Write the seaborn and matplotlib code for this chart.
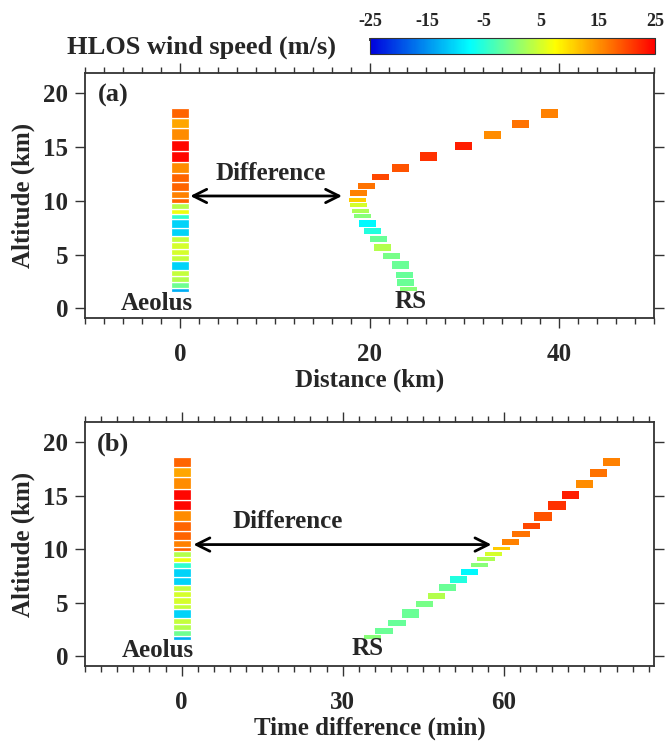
import numpy as np
import matplotlib
matplotlib.use("Agg")
import matplotlib.pyplot as plt
import seaborn as sns
from matplotlib.colors import LinearSegmentedColormap, Normalize
from matplotlib.cm import ScalarMappable
from matplotlib.ticker import MultipleLocator

# ---------------- data ----------------
# Aeolus range-bin boundaries (km, bottom -> top) and HLOS wind (m/s)
aeolus_bounds = [1.5, 1.9, 2.45, 3.05, 3.6, 4.4, 4.92, 5.55, 6.15, 6.7, 7.45, 8.3,
                 8.78, 9.25, 9.82, 10.25, 10.9, 11.75, 12.62, 13.65, 14.65, 15.68,
                 16.75, 17.72, 18.6]
aeolus_wind = [-13, -1, 3.1, 4, -10.5, 4, 4.9, 4.9, 4, -10.5, -10.5, -4.75,
               6.6, 3.1, 18, 16.2, 18, 18, 15.4, 24.6, 24.6, 15.4, 13.6, 18]

# Radiosonde (RS) levels, top -> bottom
rs_alt = [18.15, 17.15, 16.12, 15.1, 14.1, 13.07, 12.2, 11.42, 10.7, 10.08, 9.58,
          9.08, 8.55, 7.88, 7.2, 6.43, 5.67, 4.91, 4.0, 3.14, 2.4, 1.78]
rs_thick = [0.8, 0.8, 0.8, 0.8, 0.8, 0.8, 0.56, 0.56, 0.56, 0.35, 0.38, 0.38, 0.38,
            0.6, 0.6, 0.6, 0.6, 0.56, 0.78, 0.56, 0.56, 0.4]
rs_wind = [16.2, 17.1, 15.4, 22.9, 21.5, 19.2, 20.1, 17.1, 16.2, 11, 4.9, 2.6, 0.5,
           -7.9, -5.6, -1.25, 3.1, -0.4, -1.25, -1.5, -1.25, 0.5]
rs_distance = [39.0, 35.9, 33.0, 29.9, 26.2, 23.3, 21.2, 19.7, 18.8, 18.7, 18.8,
               19.0, 19.3, 19.8, 20.3, 20.9, 21.4, 22.3, 23.3, 23.7, 23.8, 24.1]
rs_time = [80.1, 77.6, 75.0, 72.5, 69.9, 67.3, 65.2, 63.2, 61.3, 59.6, 58.1, 56.7,
           55.5, 53.6, 51.6, 49.5, 47.4, 45.3, 42.7, 40.1, 37.7, 35.6]

cbar_ticks = [-25, -15, -5, 5, 15, 25]

# ---------------- style ----------------
sns.set_theme(style="ticks")
plt.rcParams["font.family"] = ["Liberation Serif", "DejaVu Serif"]
plt.rcParams["font.weight"] = "bold"
plt.rcParams["axes.labelweight"] = "bold"
plt.rcParams["axes.edgecolor"] = "#333333"
plt.rcParams["axes.linewidth"] = 1.3

cmap = LinearSegmentedColormap.from_list(
    "hlos", [(0.0, "#0000dd"), (0.35, "#00ffff"), (0.5, "#80ff80"),
             (0.65, "#ffff00"), (1.0, "#ff0000")])
norm = Normalize(vmin=-25, vmax=25)

fig = plt.figure(figsize=(6.68, 7.45), dpi=100)
ax_a = fig.add_axes([0.1272, 0.5732, 0.852, 0.3289])
ax_b = fig.add_axes([0.1272, 0.1060, 0.852, 0.3275])

b = np.array(aeolus_bounds)
rs_alt_arr = np.array(rs_alt)
rs_thick_arr = np.array(rs_thick)


def draw_panel(ax, rs_x, aeolus_w, rs_w, xlim, major, minor, xlabel, tag,
               arrow_x, diff_xy, aeolus_xy, rs_xy):
    ax.bar(np.zeros(len(aeolus_wind)), np.diff(b), bottom=b[:-1], width=aeolus_w,
           color=cmap(norm(np.array(aeolus_wind))), edgecolor="white",
           linewidth=0.9, align="center")
    ax.bar(rs_x, rs_thick_arr, bottom=rs_alt_arr - rs_thick_arr / 2, width=rs_w,
           color=cmap(norm(np.array(rs_wind))), edgecolor="none")
    ax.set_xlim(*xlim)
    ax.set_ylim(-0.9, 21.9)
    ax.xaxis.set_major_locator(MultipleLocator(major))
    ax.xaxis.set_minor_locator(MultipleLocator(minor))
    ax.yaxis.set_major_locator(MultipleLocator(5))
    ax.tick_params(axis="both", which="both", direction="out", top=True,
                   right=True, labeltop=False, labelright=False,
                   color="#333333", width=1.0)
    ax.tick_params(axis="both", which="major", length=7, labelsize=18)
    ax.tick_params(axis="x", which="minor", length=4)
    ax.tick_params(axis="x", which="major", pad=11)
    ax.tick_params(axis="y", which="major", pad=5)
    ax.set_xlabel(xlabel, fontsize=18, labelpad=2)
    ax.set_ylabel("Altitude (km)", fontsize=18, labelpad=6)
    ax.text(0.05, 0.91, tag, transform=ax.transAxes, fontsize=19,
            fontweight="bold", ha="center", va="center")
    ax.annotate("", xy=(arrow_x[1], 10.45), xytext=(arrow_x[0], 10.45),
                arrowprops=dict(arrowstyle="<->,head_length=0.8,head_width=0.4",
                                lw=2, color="black", shrinkA=0, shrinkB=0))
    ax.text(diff_xy[0], diff_xy[1], "Difference", fontsize=18, fontweight="bold",
            ha="center", va="center")
    ax.text(aeolus_xy[0], aeolus_xy[1], "Aeolus", fontsize=18, fontweight="bold",
            ha="center", va="center")
    ax.text(rs_xy[0], rs_xy[1], "RS", fontsize=18, fontweight="bold",
            ha="center", va="center")


draw_panel(ax_a, rs_distance, 1.9, 1.8, (-10, 50), 20, 2, "Distance (km)", "(a)",
           (1.1, 17.1), (9.6, 12.5), (-2.4, 0.45), (24.3, 0.59))
draw_panel(ax_b, rs_time, 3.35, 3.2, (-18, 88), 30, 3, "Time difference (min)",
           "(b)", (2.2, 57.7), (19.7, 12.6), (-4.5, 0.56), (34.7, 0.72))

# colorbar
cax = fig.add_axes([0.554, 0.928, 0.4266, 0.021])
sm = ScalarMappable(norm=norm, cmap=cmap)
cb = fig.colorbar(sm, cax=cax, orientation="horizontal", ticks=cbar_ticks)
cb.outline.set_linewidth(0.8)
cax.xaxis.set_ticks_position("top")
cax.xaxis.set_label_position("top")
cax.tick_params(axis="x", length=2, labelsize=13, pad=6, direction="in")
cax.set_xticklabels([str(t) for t in cbar_ticks])
fig.text(0.301, 0.937, "HLOS wind speed (m/s)", fontsize=19, fontweight="bold",
         ha="center", va="center")

fig.savefig("out.png", dpi=100)
